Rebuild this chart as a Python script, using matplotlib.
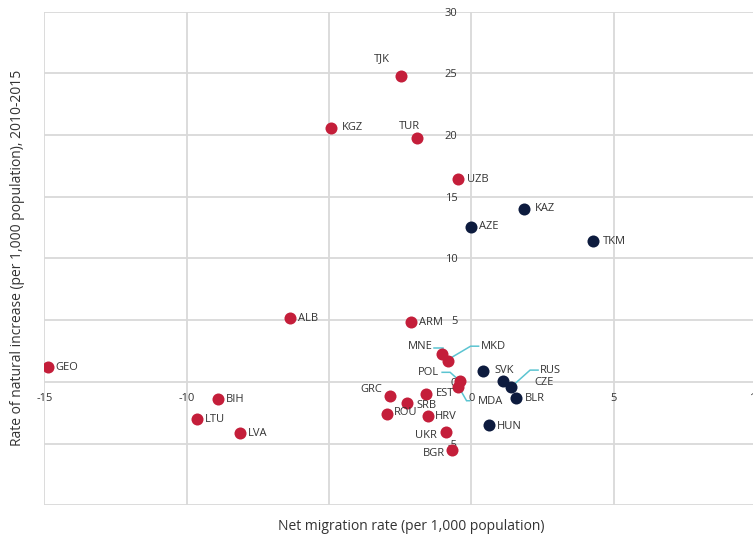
import matplotlib
matplotlib.use("Agg")
import matplotlib.pyplot as plt
import matplotlib.transforms as mtransforms

plt.rcParams['font.family'] = ['Open Sans', 'DejaVu Sans']

##############
 # Data
##############

# countries drawn in red
red_names = ['TJK', 'KGZ', 'TUR', 'UZB', 'ALB', 'ARM', 'GEO', 'BIH', 'LTU', 'LVA',
             'MNE', 'MKD', 'POL', 'MDA', 'GRC', 'EST', 'SRB', 'ROU', 'HRV', 'UKR', 'BGR']
red_migration = [-2.48, -4.91, -1.89, -0.46, -6.35, -2.10, -14.88, -8.89, -9.65, -8.13,
                 -1.03, -0.83, -0.39, -0.48, -2.85, -1.59, -2.24, -2.95, -1.52, -0.88, -0.67]
red_increase = [24.8, 20.59, 19.73, 16.4, 5.14, 4.82, 1.18, -1.42, -3.04, -4.17,
                2.26, 1.67, 0.04, -0.4, -1.19, -0.97, -1.72, -2.6, -2.74, -4.09, -5.56]

# countries drawn in navy
navy_names = ['KAZ', 'AZE', 'TKM', 'SVK', 'CZE', 'RUS', 'BLR', 'HUN']
navy_migration = [1.87, 0.0, 4.29, 0.40, 1.11, 1.40, 1.59, 0.61]
navy_increase = [14.03, 12.57, 11.41, 0.89, 0.1, -0.43, -1.35, -3.52]

x_ticks = [-15, -10, -5, 0, 5, 10]
x_tick_labels = ['-15', '-10', '', '0', '5', '10']
y_ticks = [-10, -5, 0, 5, 10, 15, 20, 25, 30]
y_tick_labels = ['', '-5', '0', '5', '10', '15', '20', '25', '30']

x_title = 'Net migration rate (per 1,000 population)'
y_title = 'Rate of natural increase (per 1,000 population), 2010-2015'

##############
 # Label placement (pixel offsets from the point: dx, dy, ha)
##############

label_offsets = {
    'TJK': (-19, 17, 'center'), 'TUR': (-8, 12, 'center'), 'KGZ': (10, 0, 'left'),
    'UZB': (9, 0, 'left'), 'KAZ': (10, 0, 'left'), 'AZE': (8, 0, 'left'),
    'TKM': (10, 0, 'left'), 'ALB': (8, 0, 'left'), 'ARM': (8, 0, 'left'),
    'GEO': (8, 0, 'left'), 'BIH': (8, 0, 'left'), 'LTU': (8, 0, 'left'),
    'LVA': (8, 0, 'left'), 'GRC': (-8, 7, 'right'), 'EST': (10, 0, 'left'),
    'SRB': (9, -2, 'left'), 'ROU': (7, 1, 'left'), 'HRV': (7, -1, 'left'),
    'UKR': (-9, -3, 'right'), 'BGR': (-7, -3, 'right'), 'HUN': (8, -1, 'left'),
    'BLR': (8, 0, 'left'), 'SVK': (12, 0, 'left'), 'CZE': (32, -2, 'left'),
    'RUS': (29, 17, 'left'), 'MKD': (33, 15, 'left'), 'MNE': (-9, 7, 'right'),
    'POL': (-21, 9, 'right'), 'MDA': (20, -15, 'left'),
}

# leader lines, vertices in pixels relative to the point
leaders = {
    'MNE': [(1, 0), (1, 6), (-8, 6)],
    'MKD': [(1, 2), (23, 15), (31, 15)],
    'POL': [(0, 0), (-10, 9), (-18, 9)],
    'MDA': [(1, 0), (9, -14), (12, -14)],
    'RUS': [(0, 0), (19, 17), (27, 17)],
}

red = '#C41E3A'
navy = '#0D1B3E'
leader_color = '#5BC4D1'
text_color = '#333333'

##############
 # Plot
##############

fig = plt.figure(figsize=(7.53, 5.35), dpi=100)
ax = fig.add_axes([0.0588, 0.0557, 0.945, 0.9226])

ax.set_xlim(-15, 10)
ax.set_ylim(-10, 30)
ax.set_xticks(x_ticks)
ax.set_xticklabels(x_tick_labels)
ax.set_yticks(y_ticks)
ax.set_yticklabels(y_tick_labels)
ax.grid(True, color='#D9D9D9', lw=1.3, zorder=0)
ax.set_axisbelow(True)

for s in ax.spines.values():
    s.set_visible(False)
ax.spines['left'].set_position(('data', 0))
ax.spines['bottom'].set_position(('data', 0))
ax.tick_params(axis='both', length=0, labelsize=8, labelcolor=text_color)
ax.tick_params(axis='y', pad=10)
ax.tick_params(axis='x', pad=8)
for lbl in ax.get_xticklabels() + ax.get_yticklabels():
    lbl.set_clip_on(False)

ax.scatter(red_migration, red_increase, s=75, color=red, zorder=3, linewidths=0)
ax.scatter(navy_migration, navy_increase, s=75, color=navy, zorder=3, linewidths=0)

all_names = red_names + navy_names
all_x = red_migration + navy_migration
all_y = red_increase + navy_increase

for name, x, y in zip(all_names, all_x, all_y):
    dx, dy, ha = label_offsets[name]
    ax.annotate(name, (x, y), xytext=(dx, dy), textcoords='offset pixels',
                ha=ha, va='center', fontsize=8, color=text_color, zorder=4)
    if name in leaders:
        trans = fig.dpi_scale_trans + mtransforms.ScaledTranslation(x, y, ax.transData)
        pts = leaders[name]
        ax.plot([p[0] / 100 for p in pts], [p[1] / 100 for p in pts],
                color=leader_color, lw=1.1, transform=trans, zorder=2,
                solid_joinstyle='miter')

fig.text(0.546, 0.0168, x_title, ha='center', va='center', fontsize=10, color=text_color)
fig.text(0.0235, 0.518, y_title, ha='center', va='center', rotation=90,
         fontsize=10, color=text_color)

fig.savefig('out.png', dpi=100)
